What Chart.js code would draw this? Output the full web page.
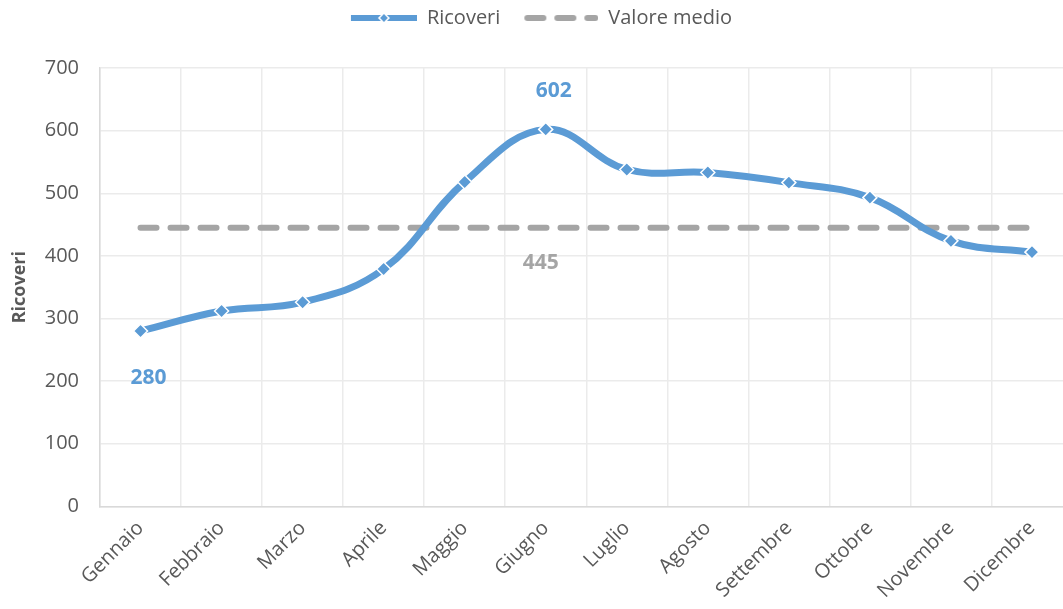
<!DOCTYPE html>
<html>
<head>
<meta charset="utf-8">
<script src="https://cdn.jsdelivr.net/npm/chart.js@4/dist/chart.umd.min.js"></script>
<style>
  html, body { margin: 0; padding: 0; background: #fff; overflow: hidden; }
  #wrap { width: 1081px; height: 609px; position: relative; }
</style>
</head>
<body>
<div id="wrap"><canvas id="c"></canvas></div>
<script>
const categories = ["Gennaio","Febbraio","Marzo","Aprile","Maggio","Giugno","Luglio","Agosto","Settembre","Ottobre","Novembre","Dicembre"];
const ricoveri = [280, 312, 326, 379, 518, 602, 538, 533, 517, 493, 424, 406];
const valoreMedio = [445, 445, 445, 445, 445, 445, 445, 445, 445, 445, 445, 445];
const yTicks = [0, 100, 200, 300, 400, 500, 600, 700];
const labelIdx = { ricoveri: [0, 5], medio: [5] };

const BLUE = '#5B9BD5', GRAY = '#A5A5A5', TXT = '#595959';
const FONT = '"Open Sans", "Liberation Sans", sans-serif';
const ICON_W = 90;

function legendIcon(kind) {
  const cv = document.createElement('canvas');
  cv.width = ICON_W; cv.height = 14;
  const g = cv.getContext('2d');
  if (kind === 'line') {
    g.fillStyle = BLUE;
    g.fillRect(24, 4, 66, 6);
    g.save();
    g.translate(57, 7);
    g.rotate(Math.PI / 4);
    g.fillStyle = BLUE;
    g.fillRect(-3.5, -3.5, 7, 7);
    g.strokeStyle = '#fff';
    g.lineWidth = 1.5;
    g.strokeRect(-3.5, -3.5, 7, 7);
    g.restore();
  } else {
    g.strokeStyle = GRAY;
    g.lineWidth = 6;
    g.lineCap = 'round';
    [[19, 35], [49, 65], [79, 87]].forEach(([a, b]) => {
      g.beginPath(); g.moveTo(a, 7); g.lineTo(b, 7); g.stroke();
    });
  }
  return cv;
}

const icons = [legendIcon('line'), legendIcon('dash')];

const legendSpacer = {
  id: 'legendSpacer',
  beforeLayout(chart) {
    const lg = chart.legend;
    if (lg && !lg._spaced) {
      const fit = lg.fit;
      lg.fit = function () { fit.call(this); this.height += 30; };
      lg._spaced = true;
    }
  },
  afterLayout(chart) {
    if (chart.legend) chart.legend.left -= 30;
  }
};

const dataLabels = {
  id: 'dataLabels',
  afterDatasetsDraw(chart) {
    const ctx = chart.ctx;
    ctx.save();
    ctx.font = 'bold 21px ' + FONT;
    ctx.textAlign = 'center';
    ctx.textBaseline = 'middle';
    const m0 = chart.getDatasetMeta(0);
    ctx.fillStyle = BLUE;
    const mx = Math.max(...ricoveri);
    labelIdx.ricoveri.forEach(i => {
      const p = m0.data[i];
      ctx.fillText(String(ricoveri[i]), p.x + 8, ricoveri[i] === mx ? p.y - 38 : p.y + 47);
    });
    const m1 = chart.getDatasetMeta(1);
    ctx.fillStyle = GRAY;
    labelIdx.medio.forEach(i => {
      const p = m1.data[i];
      ctx.fillText(String(valoreMedio[i]), p.x - 5, p.y + 35);
    });
    ctx.restore();
  }
};

new Chart(document.getElementById('c'), {
  type: 'line',
  data: {
    labels: categories,
    datasets: [
      {
        label: 'Ricoveri',
        data: ricoveri,
        borderColor: BLUE,
        backgroundColor: BLUE,
        borderWidth: 7,
        tension: 0.4,
        pointStyle: 'rectRot',
        pointRadius: 7,
        pointBackgroundColor: BLUE,
        pointBorderColor: '#fff',
        pointBorderWidth: 1.5,
        order: 1
      },
      {
        label: 'Valore medio',
        data: valoreMedio,
        borderColor: GRAY,
        backgroundColor: GRAY,
        borderWidth: 6,
        borderDash: [16, 14],
        borderCapStyle: 'round',
        pointRadius: 0,
        tension: 0,
        order: 2
      }
    ]
  },
  options: {
    responsive: true,
    maintainAspectRatio: false,
    animation: false,
    layout: { padding: { left: 8, right: 0, top: 0, bottom: 2 } },
    plugins: {
      tooltip: { enabled: false },
      legend: {
        position: 'top',
        labels: {
          usePointStyle: true,
          pointStyleWidth: ICON_W,
          color: TXT,
          font: { family: FONT, size: 20 },
          padding: 8,
          generateLabels(chart) {
            return chart.data.datasets.map((d, i) => ({
              text: d.label,
              pointStyle: icons[i],
              fillStyle: 'transparent',
              strokeStyle: 'transparent',
              lineWidth: 0,
              datasetIndex: i,
              fontColor: TXT
            }));
          }
        }
      }
    },
    scales: {
      x: {
        offset: true,
        afterFit(axis) { axis.height -= 6; },
        grid: { offset: true, color: '#EBEBEB', lineWidth: 1.5, drawTicks: false },
        border: { color: '#D9D9D9', width: 1.5 },
        ticks: {
          color: TXT,
          font: { family: FONT, size: 20 },
          minRotation: 45,
          maxRotation: 45,
          padding: 10,
          autoSkip: false
        }
      },
      y: {
        min: 0,
        max: 700,
        afterBuildTicks(axis) { axis.ticks = yTicks.map(v => ({ value: v })); },
        afterFit(axis) { axis.width = 92; },
        grid: { color: '#EBEBEB', lineWidth: 1.5, drawTicks: false },
        border: { color: '#D9D9D9', width: 1.5 },
        title: {
          display: true,
          text: 'Ricoveri',
          color: TXT,
          font: { family: FONT, size: 18, weight: 'bold' },
          padding: { top: 1, bottom: 10 }
        },
        ticks: {
          color: TXT,
          font: { family: FONT, size: 20 },
          padding: 21
        }
      }
    }
  },
  plugins: [legendSpacer, dataLabels]
});
</script>
</body>
</html>
